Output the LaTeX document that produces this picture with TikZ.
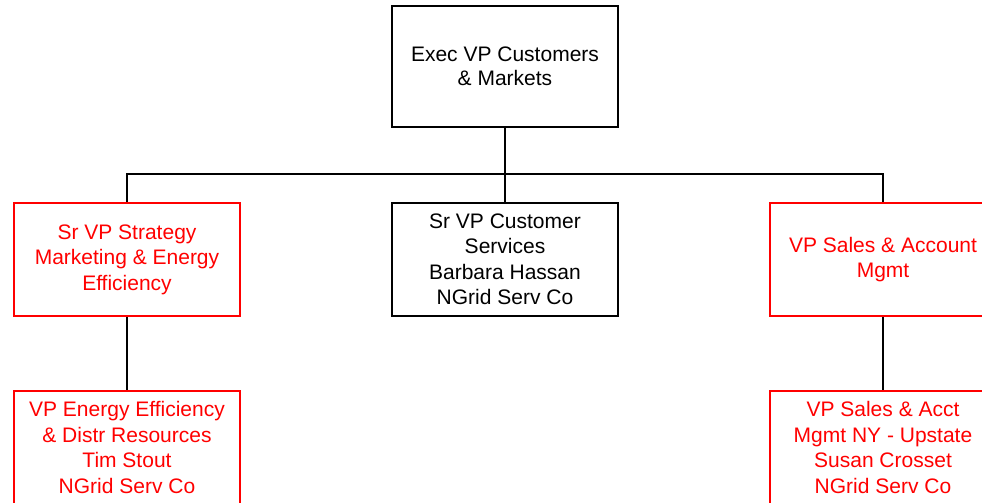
\documentclass[tikz,border=0pt]{standalone}
\usepackage{fontspec}
\setmainfont{Liberation Sans}
\definecolor{orgred}{RGB}{255,0,0}
\begin{document}
\begin{tikzpicture}[x=1pt,y=-1pt,
  box/.style={draw=black, line width=1.5pt, rectangle, minimum width=226pt, minimum height=113pt,
    align=center, inner sep=0pt, font=\fontsize{21}{25.5}\selectfont, text=black},
  redbox/.style={box, draw=orgred, text=orgred},
  conn/.style={draw=black, line width=1.5pt}]
\clip (0,0) rectangle (982,503);
\useasboundingbox (0,0) rectangle (982,503);
\node[box, minimum height=121pt] (top) at (505,66.5) {Exec VP Customers\\[-1pt]\& Markets};
\node[redbox] (left) at (127,259.5) {Sr VP Strategy\\Marketing \& Energy\\Efficiency};
\node[box] (mid) at (505,259.5) {Sr VP Customer\\Services\\Barbara Hassan\\NGrid Serv Co};
\node[redbox] (right) at (883,259.5) {VP Sales \& Account\\Mgmt};
\node[redbox] (bleft) at (127,447.5) {VP Energy Efficiency\\\& Distr Resources\\Tim Stout\\NGrid Serv Co};
\node[redbox] (bright) at (883,447.5) {VP Sales \& Acct\\Mgmt NY - Upstate\\Susan Crosset\\NGrid Serv Co};
\coordinate (hub) at (505,174);
\draw[conn, line width=2pt] (top.south) -- (hub);
\draw[conn] (hub) -- (mid.north);
\draw[conn] (left.north) |- (hub) -| (right.north);
\draw[conn] (left.south) -- (bleft.north);
\draw[conn] (right.south) -- (bright.north);
\end{tikzpicture}
\end{document}
